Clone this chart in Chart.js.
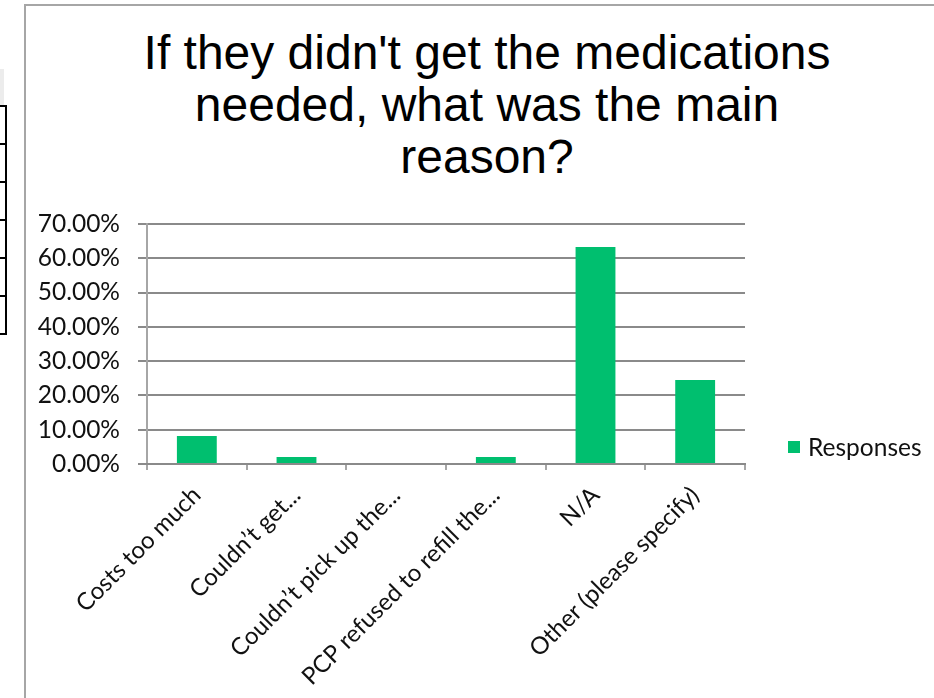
<!DOCTYPE html>
<html>
<head>
<meta charset="utf-8">
<script src="https://cdn.jsdelivr.net/npm/chart.js@4"></script>
<style>
    body { margin: 0; width: 934px; height: 698px; overflow: hidden; background: #fff; position: relative; }
    .frag-band { position: absolute; left: 0; top: 69px; width: 4px; height: 37px; background: #ececec; }
    .frag-table { position: absolute; left: -4px; top: 105px; width: 7px; border: 2px solid #000; }
    .frag-table div { height: 36px; border-bottom: 2px solid #000; }
    .frag-table div:last-child { border-bottom: none; }
    .frame { position: absolute; left: 24px; top: 4px; width: 920px; height: 700px; border-left: 2px solid #a6a6a6; border-top: 2px solid #a6a6a6; }
    .title { position: absolute; left: 40px; right: 0; top: 27px; text-align: center; font: 48px/52px "Liberation Sans", Arial, sans-serif; color: #000; }
    .chart-wrap { position: absolute; left: 26px; top: 180px; }
    .legend { position: absolute; left: 788px; top: 432px; font: 24.5px "Lato", sans-serif; color: #111; display: flex; align-items: center; }
    .legend i { display: inline-block; width: 12px; height: 12px; margin-right: 8px; }
</style>
</head>
<body>
<div class="frag-band"></div>
<div class="frag-table"><div></div><div></div><div></div><div></div><div></div><div></div></div>
<div class="frame"></div>
<div class="title">If they didn't get the medications<br>needed, what was the main<br>reason?</div>
<div class="chart-wrap"><canvas id="reasonChart" width="908" height="518"></canvas></div>
<div class="legend" id="legend"></div>

<script>
// ── Data ──────────────────────────────────────────────────────────────────
const categories = [
    'Costs too much',
    'Couldn\u2019t get...',
    'Couldn\u2019t pick up the...',
    'PCP refused to refill the...',
    'N/A',
    'Other (please specify)'
];
const responses = [8.16, 2.04, 0, 2.04, 63.27, 24.49];
const yTicks = [0, 10, 20, 30, 40, 50, 60, 70];
const seriesName = 'Responses';
const green = '#00bf6f';

const chart = new Chart(document.getElementById('reasonChart').getContext('2d'), {
    type: 'bar',
    data: {
        labels: categories,
        datasets: [{ label: seriesName, data: responses, backgroundColor: green, barPercentage: 0.4, categoryPercentage: 1 }]
    },
    options: {
        responsive: false,
        animation: false,
        layout: { padding: { top: 44, right: 189, left: 0, bottom: 0 } },
        plugins: { legend: { display: false }, tooltip: { enabled: false } },
        scales: {
            y: {
                min: yTicks[0],
                max: yTicks[yTicks.length - 1],
                afterBuildTicks: s => { s.ticks = yTicks.map(v => ({ value: v })); },
                afterFit: s => { s.width = 121; },
                ticks: { callback: v => v.toFixed(2) + '%', padding: 18, color: '#111', font: { family: 'Lato', size: 24.5 } },
                grid: { color: '#8a8a8a', lineWidth: 2, tickLength: 9 },
                border: { color: '#a6a6a6', width: 2 }
            },
            x: {
                afterFit: s => { s.height = 234; },
                ticks: { autoSkip: false, minRotation: 45, maxRotation: 45, padding: 11, color: '#111', font: { family: 'Lato', size: 24 } },
                grid: { drawOnChartArea: false, color: '#a6a6a6', lineWidth: 2, tickLength: 6 },
                border: { color: '#8a8a8a', width: 2 }
            }
        }
    }
});

// HTML legend built from the dataset
document.getElementById('legend').innerHTML = chart.data.datasets
    .map(d => `<i style="background:${d.backgroundColor}"></i><span>${d.label}</span>`).join('');
</script>
</body>
</html>
